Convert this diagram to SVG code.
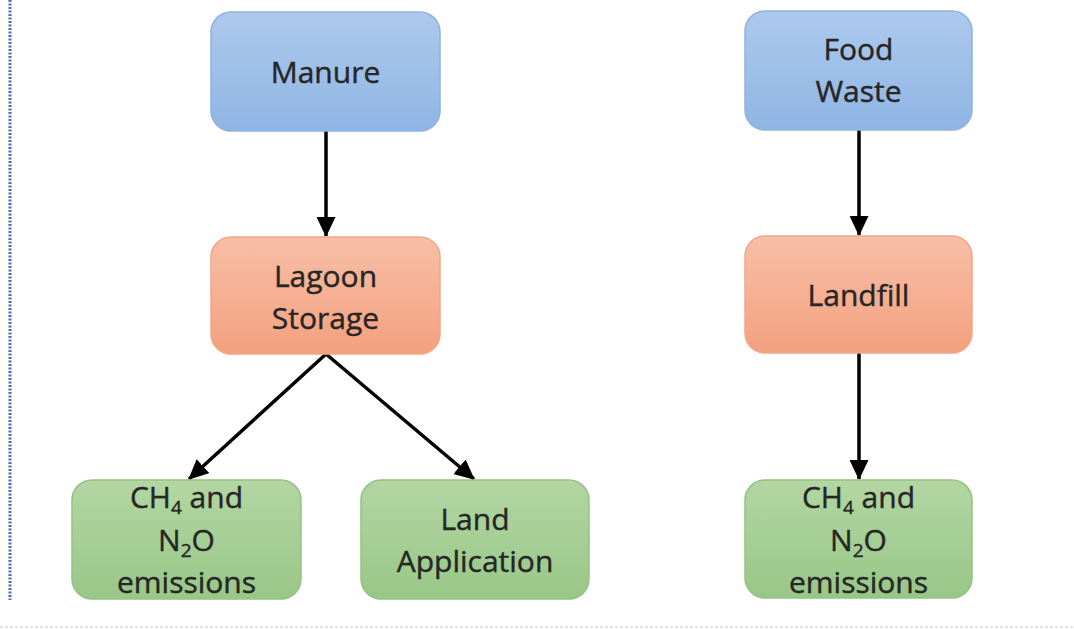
<svg xmlns="http://www.w3.org/2000/svg" width="1074" height="629" viewBox="0 0 1074 629">
<defs>
<linearGradient id="gb" x1="0" y1="0" x2="0" y2="1"><stop offset="0" stop-color="#adc9ec"/><stop offset="1" stop-color="#8fb5e4"/></linearGradient>
<linearGradient id="go" x1="0" y1="0" x2="0" y2="1"><stop offset="0" stop-color="#f7bfa6"/><stop offset="1" stop-color="#f4a07f"/></linearGradient>
<linearGradient id="gg" x1="0" y1="0" x2="0" y2="1"><stop offset="0" stop-color="#b3d6a3"/><stop offset="1" stop-color="#98c787"/></linearGradient>
<marker id="ah" markerWidth="20" markerHeight="19" refX="19" refY="9.5" orient="auto" markerUnits="userSpaceOnUse" viewBox="0 0 20 19"><path d="M0,0 L20,9.5 L0,19 z" fill="#000"/></marker>
</defs>
<style>
.t{font-family:"Open Sans","Noto Sans",sans-serif;font-size:30px;fill:#262626;text-anchor:middle;stroke:#262626;stroke-width:0.4}
.b{stroke:#8fb2de;stroke-width:1.5}
.o{stroke:#f2a587;stroke-width:1.5}
.g{stroke:#93c381;stroke-width:1.5}
.c{stroke:#000;stroke-width:3.5;fill:none;marker-end:url(#ah)}
</style>
<rect width="1074" height="629" fill="#fff"/>
<line x1="10" y1="0" x2="10" y2="600" stroke="#4a6fb0" stroke-width="3" stroke-dasharray="2,1.5"/>
<line x1="0" y1="627" x2="1074" y2="627" stroke="#d4d8de" stroke-width="1.5" stroke-dasharray="3,2"/>
<g id="connectors">
<line class="c" x1="326" y1="131" x2="326" y2="236"/>
<line class="c" x1="326" y1="354" x2="189" y2="479"/>
<line class="c" x1="326" y1="354" x2="474" y2="479"/>
<line class="c" x1="859" y1="130" x2="859" y2="235"/>
<line class="c" x1="859" y1="353" x2="859" y2="479"/>
</g>
<g id="manure"><rect class="b" x="211" y="12" width="229" height="119" rx="20" fill="url(#gb)"/><text class="t" x="325.5" y="83">Manure</text></g>
<g id="lagoon"><rect class="o" x="211" y="237" width="229" height="117" rx="20" fill="url(#go)"/><text class="t" x="325.5" y="287">Lagoon</text><text class="t" x="325.5" y="329">Storage</text></g>
<g id="emis1"><rect class="g" x="72" y="480" width="229" height="119" rx="20" fill="url(#gg)"/><text class="t" x="186.5" y="508">CH<tspan font-size="19" dy="6">4</tspan><tspan dy="-6"> and</tspan></text><text class="t" x="186.5" y="551">N<tspan font-size="19" dy="6">2</tspan><tspan dy="-6">O</tspan></text><text class="t" x="186.5" y="593">emissions</text></g>
<g id="landapp"><rect class="g" x="361" y="480" width="228" height="119" rx="20" fill="url(#gg)"/><text class="t" x="475" y="530">Land</text><text class="t" x="475" y="572">Application</text></g>
<g id="food"><rect class="b" x="745" y="11" width="227" height="119" rx="20" fill="url(#gb)"/><text class="t" x="858.5" y="60">Food</text><text class="t" x="858.5" y="102">Waste</text></g>
<g id="landfill"><rect class="o" x="745" y="236" width="227" height="117" rx="20" fill="url(#go)"/><text class="t" x="858.5" y="306">Landfill</text></g>
<g id="emis2"><rect class="g" x="745" y="480" width="227" height="118" rx="20" fill="url(#gg)"/><text class="t" x="858.5" y="508">CH<tspan font-size="19" dy="6">4</tspan><tspan dy="-6"> and</tspan></text><text class="t" x="858.5" y="551">N<tspan font-size="19" dy="6">2</tspan><tspan dy="-6">O</tspan></text><text class="t" x="858.5" y="593">emissions</text></g>
</svg>
